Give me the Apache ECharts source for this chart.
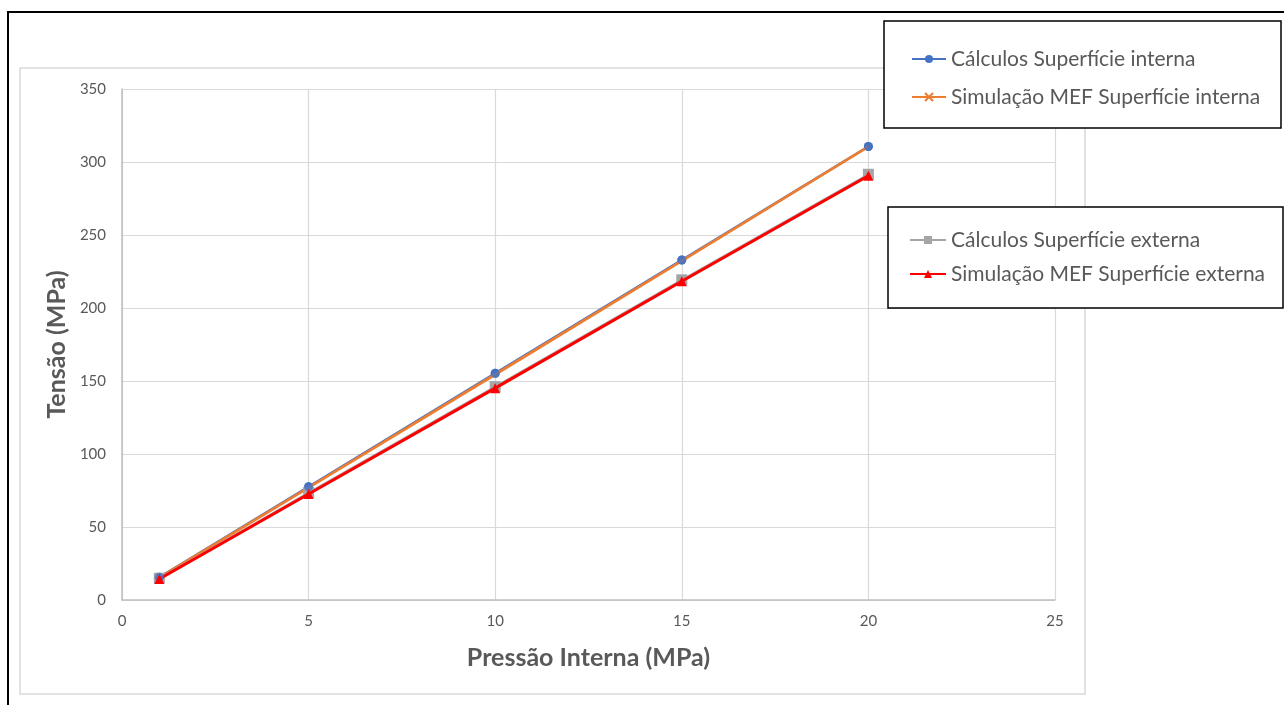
<!DOCTYPE html>
<html>
<head>
<meta charset="utf-8">
<script src="https://cdn.jsdelivr.net/npm/echarts@6/dist/echarts.min.js"></script>
<style>
  html, body { margin: 0; padding: 0; background: #ffffff; }
  #chart { width: 1284px; height: 705px; }
</style>
</head>
<body>
<div id="chart"></div>
<script>
// Internal pressure (MPa) and resulting stress (MPa)
const pressures = [1, 5, 10, 15, 20];
const calcInterna = [15.5, 77.6, 155.3, 232.9, 310.6];
const mefInterna = [15.3, 77.0, 154.5, 232.3, 310.5];
const calcExterna = [14.9, 73.6, 146.1, 219.3, 291.6];
const mefExterna = [14.4, 72.6, 145.1, 218.3, 290.6];

const nameCalcInt = 'Cálculos Superfície interna';
const nameMefInt = 'Simulação MEF Superfície interna';
const nameCalcExt = 'Cálculos Superfície externa';
const nameMefExt = 'Simulação MEF Superfície externa';

const pairs = arr => pressures.map((p, i) => [p, arr[i]]);

const textColor = '#595959';
const fontFamily = 'Lato, "Liberation Sans", sans-serif';
const crossPath = 'path://M0,0 L10,10 M10,0 L0,10';

const chart = echarts.init(document.getElementById('chart'), null, { renderer: 'canvas' });

const legendText = { color: textColor, fontSize: 21, lineHeight: 22, fontFamily: fontFamily };

chart.setOption({
  animation: false,
  backgroundColor: '#ffffff',
  graphic: [
    { type: 'rect', z: -10, shape: { x: 8, y: 12, width: 1300, height: 720 },
      style: { fill: '#ffffff', stroke: '#000000', lineWidth: 2 } },
    { type: 'rect', z: -9, shape: { x: 20, y: 68, width: 1065, height: 626 },
      style: { fill: '#ffffff', stroke: '#d9d9d9', lineWidth: 1.5 } },
    { type: 'rect', z: 50, shape: { x: 884, y: 21, width: 397, height: 107 },
      style: { fill: '#ffffff', stroke: '#000000', lineWidth: 1.5 } },
    { type: 'rect', z: 50, shape: { x: 888, y: 207, width: 395, height: 101 },
      style: { fill: '#ffffff', stroke: '#000000', lineWidth: 1.5 } }
  ],
  grid: { left: 122, top: 89, right: 229, bottom: 105, containLabel: false },
  legend: [
    {
      z: 60, orient: 'vertical', left: 911, top: 48, itemWidth: 34, itemHeight: 10, itemGap: 16,
      data: [nameCalcInt, nameMefInt], textStyle: legendText, padding: 0
    },
    {
      z: 60, orient: 'vertical', left: 909, top: 229, itemWidth: 36, itemHeight: 10, itemGap: 12,
      data: [nameCalcExt, nameMefExt], textStyle: legendText, padding: 0
    }
  ],
  xAxis: {
    type: 'value', min: 0, max: 25, interval: 5,
    name: 'Pressão Interna (MPa)', nameLocation: 'middle', nameGap: 45,
    nameTextStyle: { color: textColor, fontSize: 25, fontWeight: 'bold', fontFamily: fontFamily },
    axisLine: { show: true, lineStyle: { color: '#bfbfbf', width: 1.5 } },
    axisTick: { show: false },
    axisLabel: { color: textColor, fontSize: 15, fontFamily: fontFamily, margin: 14 },
    splitLine: { show: true, lineStyle: { color: '#d9d9d9', width: 1.2 } }
  },
  yAxis: {
    type: 'value', min: 0, max: 350, interval: 50,
    name: 'Tensão (MPa)', nameLocation: 'middle', nameGap: 47, nameRotate: 90,
    nameTextStyle: { color: textColor, fontSize: 25, fontWeight: 'bold', fontFamily: fontFamily },
    axisLine: { show: true, lineStyle: { color: '#bfbfbf', width: 1.5 } },
    axisTick: { show: false },
    axisLabel: { color: textColor, fontSize: 15, fontFamily: fontFamily, margin: 16 },
    splitLine: { show: true, lineStyle: { color: '#d9d9d9', width: 1.2 } }
  },
  series: [
    {
      name: nameCalcInt, type: 'line', data: pairs(calcInterna), z: 2,
      symbol: 'circle', symbolSize: 9,
      lineStyle: { color: '#4472C4', width: 2.5 }, itemStyle: { color: '#4472C4' }
    },
    {
      name: nameMefInt, type: 'line', data: pairs(mefInterna), z: 3,
      symbol: crossPath, symbolSize: 6,
      lineStyle: { color: '#ED7D31', width: 2.8 },
      itemStyle: { color: '#ED7D31', borderColor: '#ED7D31', borderWidth: 1 }
    },
    {
      // blue circles sit above the orange line
      name: 'marcadores-interna', type: 'scatter', data: pairs(calcInterna), z: 4,
      symbol: 'circle', symbolSize: 9, itemStyle: { color: '#4472C4' }, silent: true
    },
    {
      name: nameCalcExt, type: 'line', data: pairs(calcExterna), z: 3,
      symbol: 'rect', symbolSize: 11,
      lineStyle: { color: '#A5A5A5', width: 2 }, itemStyle: { color: '#A5A5A5' }
    },
    {
      name: nameMefExt, type: 'line', data: pairs(mefExterna), z: 4,
      symbol: 'triangle', symbolSize: 10,
      lineStyle: { color: '#FF0000', width: 3 }, itemStyle: { color: '#FF0000' }
    }
  ]
});
</script>
</body>
</html>
